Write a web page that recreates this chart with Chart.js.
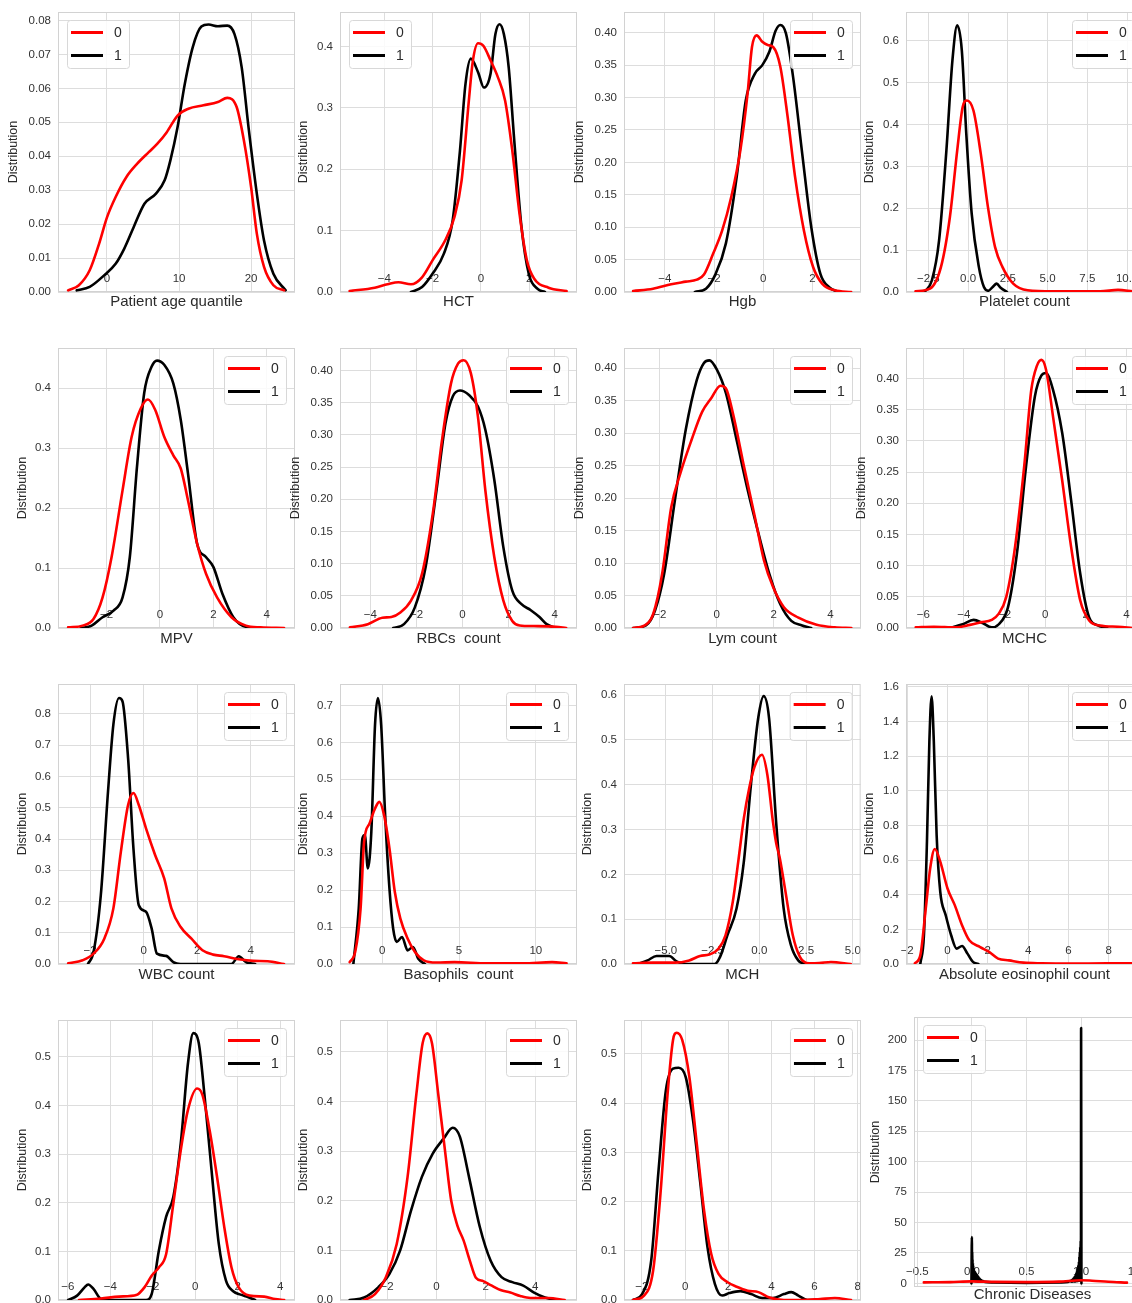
<!DOCTYPE html>
<html>
<head>
<meta charset="utf-8">
<title>Distribution by class</title>
<script src="https://cdn.jsdelivr.net/npm/chart.js@4.4.1/dist/chart.umd.min.js"></script>
<style>
  html, body { margin: 0; padding: 0; background: #fff; overflow: hidden; }
  #board { position: relative; width: 1132px; height: 1303px; overflow: hidden; }
  #board canvas { position: absolute; }
</style>
</head>
<body>
<div id="board"></div>
<script>
// KDE curves, one pair per feature: "0" = red, "1" = black. Points are [x, density].
const age0 = [[-5.4,0.0005],[-3.9,0.002],[-2.4,0.0064],[-1.1,0.0142],[0,0.022],[1.2,0.028],[2.7,0.0339],[4.2,0.0378],[5.8,0.0412],[7.0,0.0437],[8.3,0.0471],[9.8,0.052],[11.3,0.054],[13.4,0.055],[15.4,0.056],[16.7,0.0572],[18,0.0545],[19,0.0447],[20,0.031],[20.8,0.0172],[21.8,0.0074],[23.1,0.002],[24.6,0.0005]];
const age1 = [[-4.2,0.0005],[-2.4,0.0015],[-0.4,0.0049],[1.2,0.0083],[2.4,0.0128],[3.7,0.0191],[5.2,0.026],[6.8,0.029],[8.0,0.0329],[8.8,0.0388],[9.8,0.0486],[10.8,0.0613],[11.9,0.0721],[13.1,0.0782],[14.1,0.0788],[15.4,0.0783],[16.7,0.0785],[17.7,0.076],[18.7,0.0662],[19.7,0.0476],[20.8,0.029],[21.8,0.0152],[23.1,0.0054],[24.8,0.0005]];

const hct0 = [[-5.44,0.0016],[-4.4,0.007],[-3.87,0.0125],[-3.42,0.016],[-2.9,0.0125],[-2.44,0.024],[-2.0,0.052],[-1.47,0.085],[-1.1,0.122],[-0.8,0.182],[-0.5,0.312],[-0.34,0.375],[-0.12,0.405],[0.1,0.401],[0.4,0.377],[0.7,0.35],[1.0,0.312],[1.3,0.23],[1.6,0.127],[1.9,0.052],[2.2,0.022],[2.8,0.007],[3.55,0.0016]];
const hct1 = [[-2.9,0],[-2.44,0.008],[-2.0,0.03],[-1.54,0.062],[-1.17,0.117],[-0.87,0.23],[-0.64,0.339],[-0.42,0.38],[-0.12,0.358],[0.12,0.333],[0.4,0.356],[0.6,0.42],[0.77,0.436],[0.95,0.42],[1.15,0.366],[1.38,0.247],[1.68,0.106],[1.98,0.03],[2.35,0.005],[2.65,0]];

const hgb0 = [[-5.29,0.0015],[-4.48,0.005],[-3.74,0.012],[-3.15,0.016],[-2.7,0.019],[-2.41,0.027],[-2.04,0.059],[-1.67,0.095],[-1.3,0.147],[-0.93,0.219],[-0.64,0.306],[-0.46,0.378],[-0.27,0.396],[-0.04,0.386],[0.18,0.381],[0.4,0.378],[0.69,0.348],[0.99,0.27],[1.29,0.178],[1.65,0.095],[2.02,0.039],[2.39,0.013],[2.9,0.0026],[3.57,0]];
const hgb1 = [[-2.78,0],[-2.33,0.005],[-1.96,0.026],[-1.52,0.075],[-1.08,0.178],[-0.71,0.296],[-0.34,0.337],[-0.04,0.35],[0.25,0.371],[0.5,0.403],[0.69,0.412],[0.92,0.399],[1.21,0.332],[1.58,0.214],[1.95,0.1],[2.32,0.028],[2.69,0.007],[3.06,0]];

const plt0 = [[-3.3,0.0016],[-2.39,0.008],[-1.7,0.06],[-1.14,0.179],[-0.68,0.338],[-0.34,0.441],[-0.07,0.457],[0.34,0.433],[0.8,0.33],[1.25,0.203],[1.7,0.107],[2.16,0.06],[2.84,0.02],[3.75,0.004],[5.34,0.0016],[8.3,0.0016],[9.43,0.005],[10.34,0.0016]];
const plt1 = [[-2.73,0],[-2.27,0.028],[-1.82,0.123],[-1.36,0.338],[-0.98,0.553],[-0.68,0.636],[-0.39,0.576],[-0.11,0.378],[0.23,0.187],[0.68,0.06],[1.0,0.012],[1.28,0.003],[1.55,0.012],[1.8,0.02],[2.05,0.01],[2.45,0]];

const mpv0 = [[-3.44,0.001],[-2.9,0.004],[-2.49,0.015],[-2.15,0.051],[-1.81,0.119],[-1.4,0.23],[-1.06,0.319],[-0.72,0.366],[-0.45,0.381],[-0.18,0.364],[0.16,0.319],[0.5,0.288],[0.78,0.266],[1.05,0.213],[1.39,0.141],[1.73,0.09],[2.14,0.051],[2.68,0.018],[3.22,0.004],[3.77,0.001],[4.65,0]];
const mpv1 = [[-2.97,0],[-2.56,0.004],[-2.15,0.018],[-1.74,0.029],[-1.4,0.051],[-1.13,0.118],[-0.86,0.269],[-0.59,0.392],[-0.31,0.436],[-0.11,0.446],[0.16,0.439],[0.5,0.408],[0.78,0.347],[1.05,0.258],[1.39,0.141],[1.73,0.118],[2.0,0.102],[2.34,0.057],[2.75,0.018],[3.22,0.002],[3.77,0]];

const rbc0 = [[-4.89,0.001],[-4.11,0.006],[-3.48,0.016],[-3.09,0.017],[-2.7,0.024],[-2.23,0.043],[-1.76,0.084],[-1.29,0.178],[-0.89,0.292],[-0.5,0.38],[-0.19,0.411],[0.05,0.416],[0.36,0.396],[0.67,0.328],[0.99,0.214],[1.38,0.11],[1.77,0.043],[2.16,0.011],[2.48,0.004],[3.1,0.003],[4.05,0.002],[4.5,0]];
const rbc1 = [[-3.01,0],[-2.54,0.006],[-2.07,0.032],[-1.6,0.095],[-1.13,0.214],[-0.74,0.318],[-0.42,0.36],[-0.11,0.369],[0.28,0.362],[0.67,0.344],[0.99,0.308],[1.38,0.23],[1.77,0.126],[2.16,0.058],[2.56,0.037],[2.95,0.028],[3.34,0.017],[3.65,0.006],[4.05,0]];

const lym0 = [[-2.94,0],[-2.55,0.0036],[-2.23,0.022],[-1.92,0.083],[-1.6,0.186],[-1.28,0.238],[-0.89,0.289],[-0.51,0.333],[-0.19,0.354],[0.13,0.373],[0.32,0.369],[0.57,0.33],[0.96,0.248],[1.34,0.171],[1.66,0.104],[1.98,0.063],[2.36,0.032],[2.87,0.016],[3.51,0.005],[4.15,0.001],[4.73,0]];
const lym1 = [[-2.94,0],[-2.49,0.004],[-2.17,0.027],[-1.85,0.083],[-1.47,0.197],[-1.09,0.305],[-0.7,0.382],[-0.45,0.408],[-0.26,0.412],[0.0,0.398],[0.32,0.362],[0.7,0.289],[1.09,0.212],[1.47,0.145],[1.85,0.083],[2.23,0.037],[2.62,0.011],[3.0,0.004],[3.32,0]];

const mchc0 = [[-6.37,0.001],[-5.48,0.002],[-4.41,0.001],[-3.7,0.005],[-3.17,0.009],[-2.63,0.013],[-2.28,0.023],[-1.92,0.049],[-1.48,0.13],[-1.03,0.259],[-0.68,0.382],[-0.41,0.42],[-0.18,0.43],[0.04,0.415],[0.39,0.339],[0.84,0.237],[1.28,0.13],[1.73,0.044],[2.17,0.012],[2.7,0.004],[3.59,0.002],[4.3,0]];
const mchc1 = [[-4.68,0],[-4.06,0.006],[-3.52,0.013],[-3.08,0.008],[-2.63,0.001],[-2.28,0.006],[-1.83,0.033],[-1.39,0.119],[-0.94,0.259],[-0.5,0.372],[-0.18,0.405],[0.04,0.409],[0.39,0.382],[0.84,0.313],[1.28,0.205],[1.73,0.087],[2.17,0.017],[2.62,0.004],[3.06,0]];

const wbc0 = [[-2.82,0.002],[-2.28,0.012],[-1.87,0.033],[-1.47,0.081],[-1.13,0.178],[-0.85,0.359],[-0.58,0.509],[-0.38,0.547],[-0.18,0.509],[0.09,0.434],[0.43,0.349],[0.77,0.274],[1.04,0.178],[1.38,0.119],[1.79,0.081],[2.2,0.044],[2.6,0.03],[3.01,0.025],[3.56,0.015],[4.1,0.01],[4.64,0.009],[5.25,0]];
const wbc1 = [[-2.08,0],[-1.87,0.039],[-1.6,0.22],[-1.33,0.552],[-1.13,0.766],[-0.92,0.851],[-0.79,0.841],[-0.58,0.659],[-0.38,0.37],[-0.18,0.188],[0.09,0.167],[0.3,0.114],[0.5,0.033],[0.84,0.026],[1.11,0.006],[1.38,0],[3.28,0],[3.56,0.025],[3.83,0.006],[4.17,0]];

const bas0 = [[-2.12,0.005],[-1.76,0.033],[-1.41,0.15],[-1.18,0.331],[-0.82,0.381],[-0.47,0.421],[-0.19,0.439],[0.12,0.403],[0.47,0.313],[0.82,0.195],[1.18,0.123],[1.65,0.069],[2.12,0.033],[2.71,0.01],[3.53,0.004],[4.71,0.005],[6.82,0.002],[9.18,0.002],[11.06,0.005],[12.0,0.002]];
const bas1 = [[-1.88,0],[-1.53,0.15],[-1.29,0.34],[-1.13,0.349],[-0.94,0.259],[-0.71,0.358],[-0.47,0.647],[-0.28,0.72],[-0.07,0.647],[0.19,0.403],[0.47,0.204],[0.71,0.096],[0.94,0.06],[1.29,0.073],[1.65,0.037],[2.0,0.046],[2.35,0.014],[2.78,0]];

const mch0 = [[-6.76,0.0015],[-5.69,0.003],[-4.52,0.003],[-3.75,0.008],[-3.17,0.018],[-2.68,0.021],[-2.19,0.034],[-1.81,0.064],[-1.42,0.139],[-1.13,0.228],[-0.83,0.325],[-0.54,0.393],[-0.25,0.441],[0.14,0.467],[0.43,0.422],[0.72,0.32],[0.9,0.27],[1.1,0.235],[1.4,0.161],[1.79,0.064],[2.17,0.016],[2.66,0.0015],[3.2,0.002],[3.83,0.0045],[4.89,0]];
const mch1 = [[-6.47,0],[-5.98,0.008],[-5.5,0.018],[-4.82,0.018],[-4.43,0.006],[-3.94,0],[-2.39,0],[-2.1,0.016],[-1.71,0.064],[-1.22,0.124],[-0.83,0.228],[-0.45,0.4],[-0.06,0.549],[0.23,0.598],[0.52,0.549],[0.91,0.31],[1.3,0.124],[1.69,0.042],[2.08,0.008],[2.47,0]];

const eos0 = [[-1.62,0.004],[-1.35,0.05],[-1.08,0.32],[-0.86,0.552],[-0.63,0.664],[-0.36,0.591],[0.0,0.436],[0.36,0.34],[0.72,0.224],[1.08,0.137],[1.62,0.098],[2.06,0.07],[2.51,0.031],[3.05,0.021],[3.77,0.008],[4.67,0.004],[6.1,0.002],[7.9,0.004],[9.16,0.004]];
const eos1 = [[-1.35,0],[-1.17,0.166],[-1.02,0.707],[-0.9,1.286],[-0.79,1.546],[-0.68,1.286],[-0.54,0.745],[-0.36,0.417],[-0.09,0.282],[0.18,0.166],[0.45,0.089],[0.72,0.104],[0.99,0.06],[1.26,0.012],[1.53,0]];

const featA0 = [[-5.47,0],[-4.44,0.003],[-3.59,0.007],[-2.74,0.011],[-2.39,0.026],[-2.05,0.05],[-1.71,0.067],[-1.37,0.094],[-1.03,0.198],[-0.68,0.308],[-0.34,0.391],[0.09,0.435],[0.34,0.422],[0.68,0.349],[1.03,0.253],[1.37,0.15],[1.71,0.067],[2.05,0.026],[2.56,0.009],[3.25,0.007],[3.76,0.002],[4.19,0]];
const featA1 = [[-5.98,0],[-5.56,0.009],[-5.21,0.026],[-5.04,0.032],[-4.79,0.023],[-4.44,0.002],[-4.1,0],[-2.31,0],[-2.05,0.012],[-1.71,0.102],[-1.37,0.171],[-1.03,0.212],[-0.68,0.322],[-0.34,0.487],[-0.09,0.549],[0.17,0.528],[0.43,0.425],[0.77,0.267],[1.11,0.116],[1.45,0.04],[1.79,0.018],[2.14,0.011],[2.48,0.006],[2.82,0]];

const featB0 = [[-2.93,0],[-2.49,0.012],[-2.05,0.046],[-1.61,0.113],[-1.17,0.248],[-0.81,0.416],[-0.56,0.517],[-0.37,0.537],[-0.18,0.517],[0.07,0.416],[0.35,0.3],[0.6,0.2],[0.85,0.15],[1.1,0.12],[1.35,0.08],[1.6,0.045],[1.9,0.038],[2.2,0.03],[2.6,0.02],[3.0,0.015],[3.4,0.008],[3.81,0.004],[4.55,0.004],[5.2,0]];
const featB1 = [[-3.52,0],[-2.93,0.005],[-2.35,0.026],[-1.91,0.052],[-1.47,0.1],[-1.03,0.18],[-0.59,0.248],[-0.15,0.295],[0.29,0.325],[0.66,0.347],[0.95,0.329],[1.32,0.248],[1.76,0.147],[2.2,0.079],[2.64,0.046],[3.08,0.036],[3.52,0.029],[3.96,0.015],[4.4,0.005],[4.84,0]];

const featC0 = [[-2.41,0],[-1.9,0.009],[-1.48,0.06],[-1.14,0.216],[-0.81,0.419],[-0.56,0.528],[-0.39,0.543],[-0.13,0.528],[0.2,0.453],[0.54,0.318],[0.88,0.182],[1.21,0.094],[1.55,0.053],[1.97,0.036],[2.39,0.027],[2.9,0.019],[3.4,0.016],[3.91,0.005],[4.58,0],[5.42,0],[6.26,0.002],[6.94,0.004],[7.69,0]];
const featC1 = [[-2.41,0],[-1.99,0.012],[-1.57,0.08],[-1.23,0.263],[-0.89,0.426],[-0.56,0.47],[-0.3,0.472],[0.03,0.453],[0.37,0.365],[0.71,0.236],[1.04,0.107],[1.38,0.033],[1.72,0.009],[2.05,0.014],[2.56,0.018],[3.06,0.012],[3.57,0.004],[4.07,0.004],[4.58,0.012],[4.92,0.016],[5.25,0.009],[5.67,0],[6.0,0]];

// binary feature: the "1" curve is a ragged, very narrow KDE around 0 and 1
const chronic0 = [[-0.44,0.8],[-0.2,1.0],[0.0,1.6],[0.2,1.2],[0.5,1.0],[0.8,1.4],[1.0,2.6],[1.1,2.2],[1.25,1.3],[1.42,0.6]];
const chronic1 = [[-0.004,0],[0.0,38],[0.0015,3],[0.003,26],[0.0045,3],[0.006,20],[0.0075,2.5],[0.009,17],[0.0105,2.5],[0.012,15],[0.014,2.2],[0.016,13],[0.018,2.2],[0.02,11],[0.023,2],[0.026,10],[0.029,2],[0.032,9],[0.035,1.8],[0.038,8],[0.042,1.8],[0.046,7],[0.05,1.6],[0.054,6],[0.058,1.6],[0.062,5],[0.067,1.5],[0.072,4],[0.077,1.4],[0.082,3],[0.088,1.3],[0.095,2],[0.12,1.2],[0.2,0.8],[0.35,0.5],[0.5,0.4],[0.65,0.5],[0.8,0.8],[0.88,1.2],[0.905,2],[0.912,1.3],[0.918,3],[0.923,1.4],[0.928,4],[0.933,1.5],[0.938,5],[0.942,1.6],[0.946,6],[0.95,1.6],[0.954,8],[0.958,1.8],[0.962,10],[0.965,1.8],[0.968,12],[0.971,2],[0.974,15],[0.977,2],[0.98,18],[0.982,2.2],[0.984,22],[0.986,2.2],[0.988,26],[0.99,2.5],[0.992,30],[0.994,2.5],[0.996,35],[0.9975,3],[0.999,40],[1.0,210],[1.003,0]];

// tick labels (matplotlib style minus sign)
const ageXTicks = ['0', '10', '20'];
const ageYTicks = ['0.00', '0.01', '0.02', '0.03', '0.04', '0.05', '0.06', '0.07', '0.08'];
const hctXTicks = ['−4', '−2', '0', '2'];
const hgbXTicks = ['−4', '−2', '0', '2'];
const pltXTicks = ['−2.5', '0.0', '2.5', '5.0', '7.5', '10.0'];
const mpvXTicks = ['−2', '0', '2', '4'];
const rbcXTicks = ['−4', '−2', '0', '2', '4'];
const lymXTicks = ['−2', '0', '2', '4'];
const mchcXTicks = ['−6', '−4', '−2', '0', '2', '4'];
const wbcXTicks = ['−2', '0', '2', '4'];
const basXTicks = ['0', '5', '10'];
const mchXTicks = ['−5.0', '−2.5', '0.0', '2.5', '5.0'];
const eosXTicks = ['−2', '0', '2', '4', '6', '8'];
const featAXTicks = ['−6', '−4', '−2', '0', '2', '4'];
const featBXTicks = ['−2', '0', '2', '4'];
const featCXTicks = ['−2', '0', '2', '4', '6', '8'];
const chronicXTicks = ['−0.5', '0.0', '0.5', '1.0', '1.5'];

const yTicks04 = ['0.0', '0.1', '0.2', '0.3', '0.4'];
const yTicks040 = ['0.00', '0.05', '0.10', '0.15', '0.20', '0.25', '0.30', '0.35', '0.40'];
const yTicks05 = ['0.0', '0.1', '0.2', '0.3', '0.4', '0.5'];
const yTicks06 = ['0.0', '0.1', '0.2', '0.3', '0.4', '0.5', '0.6'];
const yTicks07 = ['0.0', '0.1', '0.2', '0.3', '0.4', '0.5', '0.6', '0.7'];
const yTicks08 = ['0.0', '0.1', '0.2', '0.3', '0.4', '0.5', '0.6', '0.7', '0.8'];
const eosYTicks = ['0.0', '0.2', '0.4', '0.6', '0.8', '1.0', '1.2', '1.4', '1.6'];
const chronicYTicks = ['0', '25', '50', '75', '100', '125', '150', '175', '200'];

const FONT = "'Liberation Sans', Arial, Helvetica, sans-serif";
const TEXT = '#2b2b2b';
const GRID = '#dddddd';
const RED = '#ff0000';
const BLACK = '#000000';

const colLeft = [58, 340, 624, 906];
const rowTop = [12, 348, 684, 1020];
const PLOT_W = 237;
const PLOT_H = 280;
const PAD_TOP = 16;
const PAD_RIGHT = 6;

const panels = [
  { title: 'Patient age quantile', red: age0, black: age1, xt: ageXTicks, yt: ageYTicks, x: [-6.8, 26.1], y: [0, 0.0825], legend: 'left', yw: 52 },
  { title: 'HCT', red: hct0, black: hct1, xt: hctXTicks, yt: yTicks04, x: [-5.84, 3.98], y: [0, 0.456], legend: 'left', yw: 44 },
  { title: 'Hgb', red: hgb0, black: hgb1, xt: hgbXTicks, yt: yTicks040, x: [-5.66, 3.97], y: [0, 0.432], legend: 'right', yw: 52 },
  { title: 'Platelet count', red: plt0, black: plt1, xt: pltXTicks, yt: yTicks06, x: [-3.9, 11.0], y: [0, 0.668], legend: 'right', yw: 44 },
  { title: 'MPV', red: mpv0, black: mpv1, xt: mpvXTicks, yt: yTicks04, x: [-3.82, 5.06], y: [0, 0.467], legend: 'right', yw: 43 },
  { title: 'RBCs  count', red: rbc0, black: rbc1, xt: rbcXTicks, yt: yTicks040, x: [-5.32, 4.97], y: [0, 0.435], legend: 'right', yw: 52 },
  { title: 'Lym count', red: lym0, black: lym1, xt: lymXTicks, yt: yTicks040, x: [-3.26, 5.07], y: [0, 0.431], legend: 'right', yw: 52 },
  { title: 'MCHC', red: mchc0, black: mchc1, xt: mchcXTicks, yt: yTicks040, x: [-6.85, 4.82], y: [0, 0.449], legend: 'right', yw: 52 },
  { title: 'WBC count', red: wbc0, black: wbc1, xt: wbcXTicks, yt: yTicks08, x: [-3.2, 5.66], y: [0, 0.896], legend: 'right', yw: 43 },
  { title: 'Basophils  count', red: bas0, black: bas1, xt: basXTicks, yt: yTicks07, x: [-2.75, 12.68], y: [0, 0.758], legend: 'right', yw: 44 },
  { title: 'MCH', red: mch0, black: mch1, xt: mchXTicks, yt: yTicks06, x: [-7.24, 5.42], y: [0, 0.625], legend: 'right', yw: 44 },
  { title: 'Absolute eosinophil count', red: eos0, black: eos1, xt: eosXTicks, yt: eosYTicks, x: [-2.06, 9.7], y: [0, 1.617], legend: 'right', yw: 44 },
  { title: '', red: featA0, black: featA1, xt: featAXTicks, yt: yTicks05, x: [-6.46, 4.7], y: [0, 0.576], legend: 'right', yw: 43 },
  { title: '', red: featB0, black: featB1, xt: featBXTicks, yt: yTicks05, x: [-3.91, 5.7], y: [0, 0.564], legend: 'right', yw: 44 },
  { title: '', red: featC0, black: featC1, xt: featCXTicks, yt: yTicks05, x: [-2.83, 8.15], y: [0, 0.569], legend: 'right', yw: 44 },
  { title: 'Chronic Diseases', red: chronic0, black: chronic1, xt: chronicXTicks, yt: chronicYTicks, x: [-0.53, 1.64], y: [-3, 219], legend: 'left', yw: 46,
    box: { left: 914, top: 1017, h: 270 }, xh: 17, tickPad: 8 }
];

const toNum = (label) => parseFloat(label.replace('−', '-'));
const toPoints = (pairs) => pairs.map(([x, y]) => ({ x, y }));

// light frame around the plotting area
const framePlugin = {
  id: 'frame',
  beforeDatasetsDraw(chart) {
    const { ctx, chartArea: a } = chart;
    ctx.save();
    ctx.strokeStyle = '#d2d2d2';
    ctx.lineWidth = 1;
    ctx.strokeRect(a.left + 0.5, a.top + 0.5, a.right - a.left - 1, a.bottom - a.top - 1);
    ctx.restore();
  }
};

// boxed legend drawn inside the plot corner
const boxLegend = {
  id: 'boxLegend',
  afterDatasetsDraw(chart, args, opts) {
    const { ctx, chartArea: a } = chart;
    const w = 62, h = 48;
    const x = opts.side === 'left' ? a.left + 9 : a.right - 9 - w;
    const y = a.top + 8;
    ctx.save();
    ctx.beginPath();
    ctx.roundRect(x + 0.5, y + 0.5, w, h, 3);
    ctx.fillStyle = 'rgba(255,255,255,0.85)';
    ctx.fill();
    ctx.strokeStyle = '#d8d8d8';
    ctx.lineWidth = 1;
    ctx.stroke();
    chart.data.datasets.forEach((ds, i) => {
      const ly = y + 12.5 + i * 23;
      ctx.beginPath();
      ctx.moveTo(x + 4, ly);
      ctx.lineTo(x + 36, ly);
      ctx.strokeStyle = ds.borderColor;
      ctx.lineWidth = 3;
      ctx.stroke();
      ctx.fillStyle = TEXT;
      ctx.font = '14px ' + FONT;
      ctx.textAlign = 'left';
      ctx.textBaseline = 'middle';
      ctx.fillText(ds.label, x + 47, ly + 0.5);
    });
    ctx.restore();
  }
};

Chart.defaults.font.family = FONT;

const board = document.getElementById('board');

panels.forEach((p, i) => {
  const col = i % 4;
  const row = Math.floor(i / 4);
  const plotLeft = p.box ? p.box.left : colLeft[col];
  const plotTop = p.box ? p.box.top : rowTop[row];
  const plotH = p.box ? p.box.h : PLOT_H;
  const xh = p.xh || (row === 0 ? 19 : 20);
  const w = p.yw + PLOT_W + PAD_RIGHT;
  const h = PAD_TOP + plotH + xh;

  const canvas = document.createElement('canvas');
  canvas.width = w;
  canvas.height = h;
  canvas.style.left = (plotLeft - p.yw) + 'px';
  canvas.style.top = (plotTop - PAD_TOP) + 'px';
  canvas.style.width = w + 'px';
  canvas.style.height = h + 'px';
  board.appendChild(canvas);

  const xVals = p.xt.map(toNum);
  const yVals = p.yt.map(toNum);

  new Chart(canvas, {
    type: 'line',
    data: {
      datasets: [
        { label: '0', data: toPoints(p.red), borderColor: RED },
        { label: '1', data: toPoints(p.black), borderColor: BLACK }
      ]
    },
    options: {
      responsive: false,
      animation: false,
      devicePixelRatio: 1,
      layout: { padding: { top: PAD_TOP, right: PAD_RIGHT, bottom: 0, left: 0 } },
      elements: {
        point: { radius: 0, hoverRadius: 0 },
        line: { borderWidth: 2.6, cubicInterpolationMode: 'monotone', borderJoinStyle: 'round', borderCapStyle: 'round' }
      },
      plugins: {
        legend: { display: false },
        tooltip: { enabled: false },
        boxLegend: { side: p.legend }
      },
      scales: {
        x: {
          type: 'linear',
          min: p.x[0],
          max: p.x[1],
          grid: { color: GRID, lineWidth: 1, drawTicks: false },
          border: { display: false },
          ticks: {
            // labels sit just above the bottom edge, inside the plot
            mirror: true,
            padding: p.tickPad || 6,
            autoSkip: false,
            maxRotation: 0,
            color: '#333',
            font: { size: 11.5 },
            callback: (v, idx) => p.xt[idx]
          },
          afterBuildTicks: (s) => { s.ticks = xVals.map(v => ({ value: v })); },
          afterFit: (s) => { s.height = xh; },
          title: {
            display: p.title !== '',
            text: p.title,
            color: TEXT,
            padding: 0,
            font: { size: 15, lineHeight: 1.2 }
          }
        },
        y: {
          min: p.y[0],
          max: p.y[1],
          grid: { color: GRID, lineWidth: 1, drawTicks: false },
          border: { display: false },
          ticks: {
            padding: 7,
            color: '#333',
            font: { size: 11.5 },
            callback: (v, idx) => p.yt[idx]
          },
          afterBuildTicks: (s) => { s.ticks = yVals.map(v => ({ value: v })); },
          afterFit: (s) => { s.width = p.yw; },
          title: {
            display: true,
            text: 'Distribution',
            color: TEXT,
            padding: 0,
            font: { size: 12.5, lineHeight: 1.2 }
          }
        }
      }
    },
    plugins: [framePlugin, boxLegend]
  });
});
</script>
</body>
</html>
